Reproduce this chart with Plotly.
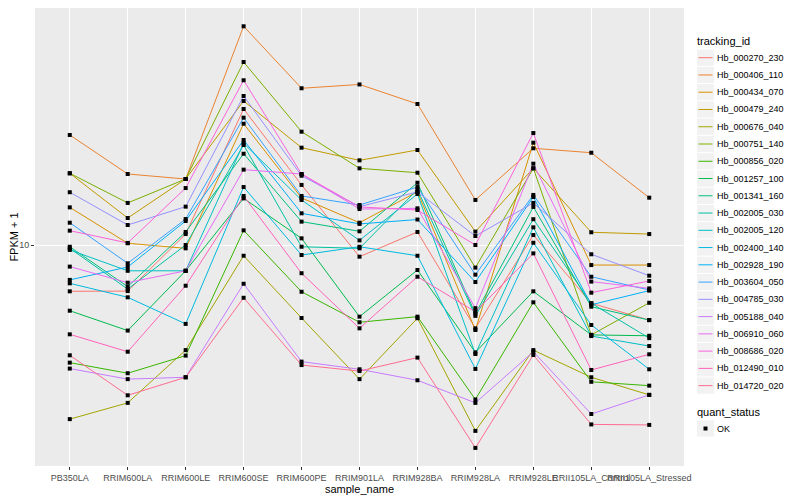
import plotly.graph_objects as go

samples = ["PB350LA", "RRIM600LA", "RRIM600LE", "RRIM600SE", "RRIM600PE", "RRIM901LA",
           "RRIM928BA", "RRIM928LA", "RRIM928LE", "RRII105LA_Control", "RRII105LA_Stressed"]

tracking_ids = ["Hb_000270_230", "Hb_000406_110", "Hb_000434_070", "Hb_000479_240",
                "Hb_000676_040", "Hb_000751_140", "Hb_000856_020", "Hb_001257_100",
                "Hb_001341_160", "Hb_002005_030", "Hb_002005_120", "Hb_002400_140",
                "Hb_002928_190", "Hb_003604_050", "Hb_004785_030", "Hb_005188_040",
                "Hb_006910_060", "Hb_008686_020", "Hb_012490_010", "Hb_014720_020"]

colors = ["#F8766D", "#EA8331", "#D89000", "#C09B00", "#A3A500", "#7CAE00", "#39B600",
          "#00BB4E", "#00BF7D", "#00C1A3", "#00BFC4", "#00BAE0", "#00B0F6", "#35A2FF",
          "#9590FF", "#C77CFF", "#E76BF3", "#FA62DB", "#FF62BC", "#FF6C91"]

# FPKM + 1 values, one list per gene, in sample order
Hb_000270_230 = [7.66, 7.67, 10.65, 21.88, 14.13, 9.35, 10.78, 6.19, 10.59, 7.15, 6.49]
Hb_000406_110 = [18.84, 15.05, 14.62, 35.22, 24.65, 25.20, 22.52, 12.96, 17.45, 17.01, 13.13]
Hb_000434_070 = [12.42, 10.10, 9.81, 20.10, 13.11, 11.37, 13.59, 6.13, 18.02, 8.91, 8.91]
Hb_000479_240 = [15.11, 11.68, 14.62, 22.91, 17.51, 16.28, 17.28, 10.80, 15.55, 10.76, 10.65]
Hb_000676_040 = [3.67, 4.03, 5.46, 9.40, 6.57, 4.62, 6.56, 3.43, 5.46, 4.67, 4.22]
Hb_000751_140 = [15.11, 12.74, 14.62, 28.67, 19.20, 15.55, 15.16, 8.78, 15.55, 5.96, 7.17]
Hb_000856_020 = [5.08, 4.78, 5.29, 10.88, 7.64, 6.41, 6.62, 4.11, 7.19, 4.55, 4.45]
Hb_001257_100 = [6.85, 6.11, 8.62, 13.08, 10.39, 6.62, 8.66, 5.39, 7.66, 5.96, 5.93]
Hb_001341_160 = [9.90, 7.87, 10.78, 16.91, 11.44, 10.82, 14.31, 6.73, 12.45, 7.01, 6.49]
Hb_002005_030 = [9.81, 7.76, 10.00, 17.78, 9.90, 9.81, 13.76, 6.65, 11.60, 7.15, 5.85]
Hb_002005_120 = [9.72, 8.62, 8.62, 17.96, 12.96, 10.27, 13.41, 5.34, 11.07, 5.92, 5.59]
Hb_002400_140 = [8.02, 7.40, 6.35, 13.96, 9.44, 9.90, 9.40, 4.90, 10.13, 6.31, 4.89]
Hb_002928_190 = [8.18, 8.81, 11.48, 18.30, 12.00, 11.29, 11.58, 8.08, 13.18, 7.09, 7.69]
Hb_003604_050 = [11.37, 9.00, 11.61, 20.81, 13.26, 12.59, 13.96, 8.43, 13.34, 8.33, 7.72]
Hb_004785_030 = [13.55, 11.22, 12.47, 23.58, 14.90, 12.47, 13.57, 10.53, 12.74, 9.48, 8.38]
Hb_005188_040 = [4.91, 4.62, 4.67, 8.00, 5.11, 4.89, 4.59, 4.03, 5.41, 3.78, 4.22]
Hb_006910_060 = [8.83, 8.05, 8.62, 15.43, 15.05, 12.30, 12.35, 6.95, 15.97, 8.10, 7.79]
Hb_008686_020 = [10.86, 10.12, 13.88, 25.81, 15.05, 12.45, 12.23, 10.00, 19.05, 7.60, 8.13]
Hb_012490_010 = [5.98, 5.41, 7.91, 13.26, 8.50, 6.19, 8.33, 6.81, 9.53, 4.87, 5.33]
Hb_014720_020 = [5.30, 4.21, 4.67, 7.38, 5.01, 4.84, 5.23, 3.11, 5.31, 3.56, 3.55]

series = [Hb_000270_230, Hb_000406_110, Hb_000434_070, Hb_000479_240, Hb_000676_040,
          Hb_000751_140, Hb_000856_020, Hb_001257_100, Hb_001341_160, Hb_002005_030,
          Hb_002005_120, Hb_002400_140, Hb_002928_190, Hb_003604_050, Hb_004785_030,
          Hb_005188_040, Hb_006910_060, Hb_008686_020, Hb_012490_010, Hb_014720_020]

quant_status = "OK"

FONT = "Liberation Sans, Arial, Helvetica, sans-serif"

fig = go.Figure()
for name, vals, col in zip(tracking_ids, series, colors):
    fig.add_trace(go.Scatter(x=samples, y=vals, mode="lines", name=name,
                             line=dict(color=col, width=1), showlegend=False))

all_x = [s for vals in series for s in samples]
all_y = [v for vals in series for v in vals]
fig.add_trace(go.Scatter(x=all_x, y=all_y, mode="markers", name=quant_status,
                         marker=dict(color="black", size=4, symbol="square"),
                         showlegend=False))

# page offset of the figure inside the browser window (default body margin)
OFF = 8
W, H = 800 - OFF, 500 - OFF
# plot panel edges in window pixels
PL, PR, PT, PB = 35, 684, 8, 466


def fx(px):
    return (px - PL) / (PR - PL)


def fy(py):
    return (PB - py) / (PB - PT)


shapes, annotations = [], []
annotations.append(dict(text="tracking_id", x=fx(695), y=fy(40.5), xref="paper", yref="paper",
                        xanchor="left", yanchor="middle", showarrow=False,
                        font=dict(size=11, color="black")))
KEY0, STEP = 57.7, 17.26
for i, (name, col) in enumerate(zip(tracking_ids, colors)):
    cy = KEY0 + i * STEP
    shapes.append(dict(type="rect", xref="paper", yref="paper", x0=fx(697), x1=fx(714),
                       y0=fy(cy + 8.1), y1=fy(cy - 8.1), fillcolor="#F2F2F2",
                       line=dict(width=0), layer="above"))
    shapes.append(dict(type="line", xref="paper", yref="paper", x0=fx(698.5), x1=fx(712.5),
                       y0=fy(cy), y1=fy(cy), line=dict(color=col, width=1), layer="above"))
    annotations.append(dict(text=name, x=fx(715), y=fy(cy), xref="paper", yref="paper",
                            xanchor="left", yanchor="middle", showarrow=False,
                            font=dict(size=9, color="black")))

annotations.append(dict(text="quant_status", x=fx(695), y=fy(411.5), xref="paper",
                        yref="paper", xanchor="left", yanchor="middle", showarrow=False,
                        font=dict(size=11, color="black")))
ok_y = 428.5
shapes.append(dict(type="rect", xref="paper", yref="paper", x0=fx(697), x1=fx(714),
                   y0=fy(ok_y + 8.1), y1=fy(ok_y - 8.1), fillcolor="#F2F2F2",
                   line=dict(width=0), layer="above"))
shapes.append(dict(type="rect", xref="paper", yref="paper", x0=fx(703.5), x1=fx(707.5),
                   y0=fy(ok_y + 2), y1=fy(ok_y - 2), fillcolor="black",
                   line=dict(width=0), layer="above"))
annotations.append(dict(text=quant_status, x=fx(715), y=fy(ok_y), xref="paper", yref="paper",
                        xanchor="left", yanchor="middle", showarrow=False,
                        font=dict(size=9, color="black")))

fig.update_layout(
    width=W, height=H,
    margin=dict(l=PL - OFF, r=800 - PR, t=PT - OFF, b=500 - PB, autoexpand=False),
    plot_bgcolor="#EBEBEB", paper_bgcolor="white",
    font=dict(family=FONT, size=9, color="black"),
    showlegend=False,
    shapes=shapes, annotations=annotations,
    xaxis=dict(type="category", range=[-0.6, 10.6], showgrid=True, gridcolor="white",
               gridwidth=1, ticks="outside", ticklen=3, tickcolor="#333333",
               tickfont=dict(size=9, color="#4D4D4D"), tickangle=0, zeroline=False,
               automargin=False,
               title=dict(text="sample_name", font=dict(size=11), standoff=2)),
    yaxis=dict(type="log", range=[0.4475, 1.5925], tickvals=[10], ticktext=["10"],
               showgrid=True, gridcolor="white", gridwidth=1, ticks="outside",
               ticklen=3, tickcolor="#333333", tickfont=dict(size=9, color="#4D4D4D"),
               zeroline=False, automargin=False,
               title=dict(text="FPKM + 1", font=dict(size=11), standoff=4)),
)

fig.write_html("out.html")
